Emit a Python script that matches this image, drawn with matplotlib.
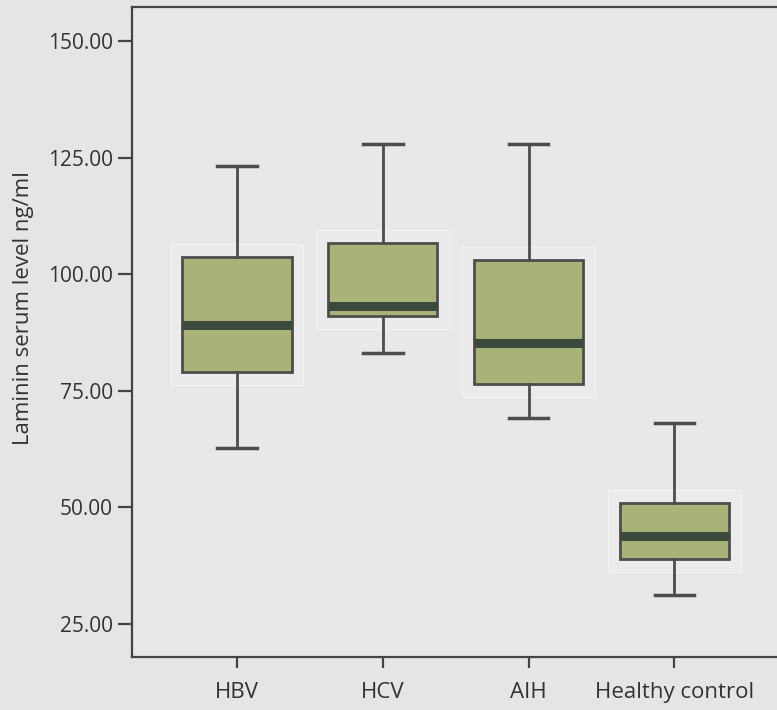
import matplotlib
matplotlib.use("Agg")
import matplotlib.pyplot as plt
from matplotlib.patches import Rectangle

plt.rcParams["font.family"] = ["Open Sans", "DejaVu Sans"]

# values (ng/ml)
groups = ["HBV", "HCV", "AIH", "Healthy control"]
whisker_low = [62.7, 83.1, 69.2, 31.2]
q1 = [79.0, 91.0, 76.5, 38.9]
median = [89.1, 93.2, 85.2, 43.9]
q3 = [103.7, 106.7, 103.0, 50.9]
whisker_high = [123.2, 127.9, 128.0, 68.1]
y_ticks = [25, 50, 75, 100, 125, 150]

BG = "#e5e5e5"
FILL = "#a8b378"
EDGE = "#4d4d4d"
MED = "#3c4a3d"

fig = plt.figure(figsize=(7.77, 7.10), dpi=100)
fig.patch.set_facecolor(BG)
ax = fig.add_axes([0.170, 0.0746, 0.833, 0.9154])
ax.set_facecolor("#e8e8e8")

positions = list(range(1, len(groups) + 1))
stats = []
for i, g in enumerate(groups):
    stats.append(dict(label=g, whislo=whisker_low[i], q1=q1[i], med=median[i],
                      q3=q3[i], whishi=whisker_high[i], fliers=[]))

# faint lighter halo behind each box
box_w = 0.75
for p, lo, hi in zip(positions, q1, q3):
    halo = Rectangle((p - 0.455, lo - 2.8), 0.91, (hi - lo) + 5.6,
                     facecolor="#ebebeb", edgecolor="#f3f3f3", linewidth=0.8, zorder=1)
    ax.add_patch(halo)

ax.bxp(stats, positions=positions, widths=box_w, patch_artist=True,
       showfliers=False, capwidths=0.27,
       boxprops=dict(facecolor=FILL, edgecolor=EDGE, linewidth=2.0),
       medianprops=dict(color=MED, linewidth=6.5, solid_capstyle="butt"),
       whiskerprops=dict(color=EDGE, linewidth=2.0),
       capprops=dict(color=EDGE, linewidth=2.5),
       zorder=3)

ax.set_xlim(0.28, 4.72)
ax.set_ylim(17.9, 157.3)
ax.set_yticks(y_ticks)
ax.set_yticklabels([f"{v:.2f}" for v in y_ticks])
ax.set_xticks(positions)
ax.set_xticklabels(groups)

for s in ax.spines.values():
    s.set_color("#444444")
    s.set_linewidth(1.6)
ax.tick_params(axis="y", length=10, width=1.6, color="#444444", labelsize=15,
               labelcolor="#333333", pad=4)
ax.tick_params(axis="x", length=8, width=1.6, color="#444444", labelsize=16,
               labelcolor="#333333", pad=10)

ax.set_ylabel("Laminin serum level ng/ml", fontsize=16, color="#333333", labelpad=10)
ax.yaxis.set_label_coords(-0.151, 0.537)

fig.savefig("out.png", dpi=100, facecolor=fig.get_facecolor())
